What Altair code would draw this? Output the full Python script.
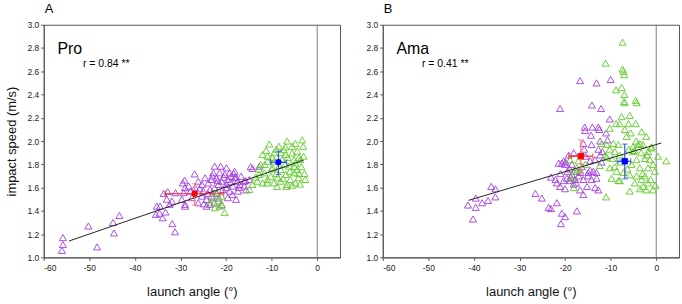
import altair as alt
import pandas as pd

# ---------------- data ----------------
pro_purple_x = [-55.8, -55.8, -56.0, -50.2, -48.3, -44.8, -44.6, -43.4,
                -35.2, -34.5, -35.4, -34.6, -33.9, -33.3, -31.8, -31.2,
                -33.7, -32.8, -31.1, -31.9, -32.4, -33.0, -29.1, -29.0, -29.0,
                -22.5, -21.2, -22.8, -21.4, -22.1, -20.3, -19.2, -18.9, -18.1, -19.6,
                -17.5, -17.0, -18.5, -19.9, -21.0, -23.2, -23.9, -24.6, -25.3, -26.1,
                -26.9, -29.5, -28.2, -26.8, -25.0, -23.5, -22.5, -20.7, -19.2, -17.4,
                -16.0, -14.9, -14.2, -12.7, -17.8, -25.3, -24.3, -23.5, -24.3, -26.1,
                -29.0, -29.7, -29.3, -27.5, -23.2, -19.6, -21.7, -16.7, -16.0, -18.1,
                -19.9, -20.5, -19.0, -18.3, -17.8, -20.0, -22.0, -24.0, -25.8, -27.8,
                -21.6, -22.6, -24.9, -20.9, -18.6, -17.2, -15.6, -14.6, -15.7, -23.0, -21.8]
pro_purple_y = [1.17, 1.11, 1.06, 1.27, 1.09, 1.30, 1.21, 1.36,
                1.44, 1.44, 1.37, 1.38, 1.34, 1.39, 1.29, 1.22,
                1.55, 1.565, 1.556, 1.484, 1.456, 1.50, 1.664, 1.60, 1.44,
                1.784, 1.784, 1.727, 1.727, 1.684, 1.713, 1.727, 1.698, 1.684, 1.67,
                1.655, 1.627, 1.613, 1.627, 1.655, 1.67, 1.64, 1.684, 1.627, 1.655,
                1.718, 1.64, 1.613, 1.60, 1.57, 1.584, 1.598, 1.584, 1.57, 1.57,
                1.613, 1.67, 1.764, 1.784, 1.499, 1.527, 1.499, 1.456, 1.44, 1.47,
                1.456, 1.499, 1.556, 1.513, 1.527, 1.513, 1.627, 1.698, 1.655, 1.74,
                1.77, 1.69, 1.65, 1.72, 1.69, 1.60, 1.55, 1.55, 1.59, 1.57,
                1.51, 1.47, 1.46, 1.45, 1.54, 1.60, 1.58, 1.78, 1.66, 1.70, 1.66]

pro_green_x = [-10.5, -8.4, -6.6, -4.8, -3.3, -3.1, -5.5, -7.3, -12.0, -10.9,
               -9.5, -6.9, -5.5, -4.4, -11.5, -9.8, -8.0, -6.2, -4.8, -3.7,
               -2.6, -4.4, -5.1, -6.9, -8.7, -10.2, -11.6, -12.7, -13.1, -12.0,
               -14.2, -14.9, -9.5, -8.0, -6.6, -4.8, -4.1, -5.9, -10.9, -12.4,
               -7.7, -9.5, -10.9, -5.1,
               -22.8, -21.7, -21.0, -20.3, -23.5, -22.1, -21.0, -21.4, -22.5,
               -9.0, -8.0, -11.2, -7.0, -6.0, -3.5, -3.0, -4.0, -9.0, -10.0,
               -7.5, -5.5, -3.8, -11.0, -12.8, -8.3, -6.5, -2.8, -13.5, -7.0,
               -9.8, -5.0, -4.0, -8.8, -6.8]
pro_green_y = [1.975, 1.955, 2.00, 1.98, 2.01, 1.955, 1.955, 1.926, 1.884, 1.87,
               1.898, 1.884, 1.898, 1.912, 1.798, 1.77, 1.755, 1.784, 1.812, 1.84,
               1.67, 1.755, 1.727, 1.713, 1.684, 1.698, 1.727, 1.713, 1.655, 1.64,
               1.627, 1.584, 1.64, 1.655, 1.627, 1.64, 1.684, 1.67, 1.67, 1.798,
               1.84, 1.827, 1.827, 1.84,
               1.513, 1.485, 1.456, 1.385, 1.47, 1.556, 1.527, 1.44, 1.427,
               1.93, 1.90, 1.92, 1.80, 1.74, 1.78, 1.87, 1.86, 1.72, 1.76,
               1.68, 1.62, 1.63, 1.64, 1.76, 1.79, 1.86, 1.72, 1.69, 1.95,
               1.86, 1.78, 1.72, 1.61, 1.61]

ama_purple_x = [-41.3, -40.2, -39.6, -39.6, -38.2, -36.9, -36.2, -35.3, -35.3,
                -26.5, -25.1, -23.6, -23.1, -21.8, -20.7, -20.0, -20.9, -17.4,
                -16.7, -13.1, -10.0,
                -21.1, -14.1, -12.1, -10.2, -15.7, -14.0, -12.7, -12.5, -15.6, -11.0,
                -14.3, -16.0, -14.2, -10.7, -15.8, -12.7, -12.3, -18.1, -19.2, -20.3,
                -20.7, -20.0, -14.5, -13.4, -12.0, -14.5, -13.8, -13.1, -14.9, -17.4,
                -16.7, -18.5, -19.6, -20.3, -18.9, -17.8, -16.0, -14.2, -13.1, -22.1,
                -23.1, -21.8, -21.1, -18.1, -15.2, -13.4, -12.7, -16.7, -16.0, -20.0,
                -11.8, -12.3, -18.5, -19.9, -21.4, -17.0, -15.0, -19.0, -17.6, -16.3,
                -21.0, -19.5, -18.8, -15.5]
ama_purple_y = [1.45, 1.33, 1.51, 1.43, 1.47, 1.49, 1.61, 1.52, 1.59,
                1.55, 1.51, 1.43, 1.42, 1.47, 1.38, 1.35, 1.29, 1.40,
                2.52, 2.50, 2.53,
                2.28, 2.31, 2.28, 2.19, 2.12, 2.12, 2.12, 2.10, 2.09, 2.07,
                2.05, 1.98, 1.97, 2.01, 1.93, 1.93, 1.88, 1.90, 1.88, 1.83,
                1.81, 1.80, 1.83, 1.84, 1.82, 1.75, 1.74, 1.73, 1.73, 1.74,
                1.73, 1.71, 1.68, 1.66, 1.66, 1.67, 1.67, 1.67, 1.68, 1.67,
                1.69, 1.64, 1.61, 1.63, 1.61, 1.60, 1.58, 1.58, 1.54, 1.59,
                1.91, 2.00, 1.80, 1.82, 1.81, 1.70, 1.70, 1.76, 1.64, 1.78,
                1.72, 1.74, 1.69, 1.87]

ama_green_x = [-7.4, -7.4, -7.2, -7.0, -8.8, -7.6, -7.0, -7.1, -11.1, -4.5,
               -6.9, -4.3, -7.6, -5.8, -8.8, -8.0, -6.1, -4.5, -10.2, -6.9,
               -5.6, -3.2, -6.5, -2.2, -4.4, -3.6, -4.0, -2.9, -5.1, -8.3,
               -9.4, -10.9, -12.0, -10.2, -9.1, -8.0, -11.2, -5.1, -3.3, -1.8,
               -1.1, -1.4, -2.5, -4.3, -5.4, -3.6, -1.8, -0.7, 2.2, -0.3,
               -9.1, -10.2, -8.7, -7.2, -5.8, -4.3, -2.5, -3.2, -1.8, -2.9,
               -3.6, -2.2, -0.7, -9.8, -8.3, -8.0, -5.8, -11.0, -10.9, -16.7,
               -17.4, -18.1, -18.9, -17.1, -15.6, -18.5, -18.1, -4.7, 0.4, -1.0,
               -6.0, -7.8, -9.6, -3.0, -1.2, -12.4, -6.3, -4.8, -2.0, -0.2]
ama_green_y = [2.85, 2.62, 2.60, 2.57, 2.44, 2.46, 2.40, 2.34, 2.67, 2.35,
               2.33, 2.33, 2.21, 2.22, 2.15, 2.15, 2.15, 2.15, 2.11, 2.10,
               2.07, 2.08, 2.04, 2.04, 2.00, 1.98, 1.97, 1.97, 1.95, 1.97,
               1.98, 1.97, 1.98, 1.93, 1.91, 1.88, 1.88, 1.91, 1.90, 1.91,
               1.94, 1.84, 1.85, 1.84, 1.80, 1.77, 1.77, 1.80, 1.83, 1.74,
               1.78, 1.77, 1.74, 1.73, 1.71, 1.70, 1.70, 1.67, 1.64, 1.61,
               1.59, 1.58, 1.58, 1.68, 1.66, 1.66, 1.57, 1.52, 1.86, 1.75,
               1.77, 1.74, 1.84, 1.83, 1.80, 1.68, 1.60, 1.64, 1.87, 1.95,
               1.93, 1.82, 1.85, 1.72, 1.67, 1.79, 1.76, 1.92, 1.88, 1.62]

# regression lines
pro_fit_x = [-54.5, -3.0]
pro_fit_y = [1.14, 1.835]
ama_fit_x = [-41.2, 1.1]
ama_fit_y = [1.49, 1.983]

# means with error bars: [x, y, xlo, xhi, ylo, yhi]
pro_red = [-26.9, 1.547, -33.3, -20.5, 1.45, 1.633]
pro_blue = [-8.5, 1.818, -10.2, -6.7, 1.713, 1.912]
ama_red = [-16.55, 1.87, -19.2, -13.9, 1.73, 2.01]
ama_blue = [-6.9, 1.826, -8.6, -5.6, 1.675, 1.974]

x_ticks = [-60, -50, -40, -30, -20, -10, 0]
y_ticks = [1.0, 1.2, 1.4, 1.6, 1.8, 2.0, 2.2, 2.4, 2.6, 2.8, 3.0]

FONT = "Liberation Sans"
PURPLE = "#a23be0"
GREEN = "#5ccb24"
W, H = 298, 234


def panel(letter, group, r_text, pu_x, pu_y, gr_x, gr_y, fit_x, fit_y, red, blue,
          mean_shape, show_ytitle):
    xs = alt.Scale(domain=[-60, 5], nice=False, zero=False)
    ys = alt.Scale(domain=[1.0, 3.0], nice=False, zero=False)
    xax = alt.Axis(values=x_ticks, labelExpr="'' + datum.value", title="launch angle (°)",
                   grid=False, tickSize=3, labelFontSize=8.5, titleFontSize=13,
                   titleFontWeight="normal", titlePadding=14, labelPadding=3)
    yax = alt.Axis(values=y_ticks, format=".1f",
                   title="impact speed (m/s)" if show_ytitle else "",
                   grid=False, tickSize=3, labelFontSize=8.5, titleFontSize=13,
                   titleFontWeight="normal", titlePadding=9, labelPadding=2)
    X = lambda f: alt.X(f, type="quantitative", scale=xs, axis=xax)
    Y = lambda f: alt.Y(f, type="quantitative", scale=ys, axis=yax)

    zero = alt.Chart(pd.DataFrame({"x": [0]})).mark_rule(color="#808080", strokeWidth=1).encode(
        x=X("x"))
    pu = alt.Chart(pd.DataFrame({"x": pu_x, "y": pu_y})).mark_point(
        shape="triangle-up", filled=False, color=PURPLE, size=50, strokeWidth=0.9, opacity=1
    ).encode(x=X("x"), y=Y("y"))
    gr = alt.Chart(pd.DataFrame({"x": gr_x, "y": gr_y})).mark_point(
        shape="triangle-up", filled=False, color=GREEN, size=50, strokeWidth=0.9, opacity=1
    ).encode(x=X("x"), y=Y("y"))
    fit = alt.Chart(pd.DataFrame({"x": fit_x, "y": fit_y})).mark_line(
        color="#222222", strokeWidth=1).encode(x=X("x"), y=Y("y"))

    layers = [zero, pu, gr, fit]
    for vals, hcol, vcol, pcol in [(red, "#ff2020", "#ff8080", "#ff0000"),
                                   (blue, "#2040e0", "#3050ee", "#0000ff")]:
        d = pd.DataFrame({"x": [vals[0]], "y": [vals[1]], "xlo": [vals[2]], "xhi": [vals[3]],
                          "ylo": [vals[4]], "yhi": [vals[5]]})
        c = alt.Chart(d)
        layers.append(c.mark_rule(color=hcol, strokeWidth=1.2).encode(
            x=X("xlo"), x2="xhi", y=Y("y")))
        layers.append(c.mark_rule(color=vcol, strokeWidth=1.2).encode(
            x=X("x"), y=Y("ylo"), y2="yhi"))
        layers.append(c.mark_tick(color=hcol, orient="vertical", size=6, thickness=1.2).encode(
            x=X("xlo"), y=Y("y")))
        layers.append(c.mark_tick(color=hcol, orient="vertical", size=6, thickness=1.2).encode(
            x=X("xhi"), y=Y("y")))
        layers.append(c.mark_tick(color=vcol, orient="horizontal", size=6, thickness=1.2).encode(
            x=X("x"), y=Y("ylo")))
        layers.append(c.mark_tick(color=vcol, orient="horizontal", size=6, thickness=1.2).encode(
            x=X("x"), y=Y("yhi")))
        layers.append(c.mark_point(shape=mean_shape, filled=True, color=pcol, size=40,
                                   opacity=1).encode(x=X("x"), y=Y("y")))

    lab = pd.DataFrame({"x": [-57.0], "y": [2.747], "t": [group]})
    layers.append(alt.Chart(lab).mark_text(align="left", baseline="alphabetic", font=FONT,
                                           fontSize=16, color="#000").encode(
        x=X("x"), y=Y("y"), text="t"))
    rt = pd.DataFrame({"x": [-51.4], "y": [2.633], "t": [r_text]})
    layers.append(alt.Chart(rt).mark_text(align="left", baseline="alphabetic", font=FONT,
                                          fontSize=10.5, color="#000").encode(
        x=X("x"), y=Y("y"), text="t"))

    return alt.layer(*layers).properties(
        width=W, height=H,
        title=alt.TitleParams(letter, anchor="start", frame="group", fontSize=13,
                              fontWeight="normal", font=FONT, offset=5, dx=1),
    )


left = panel("A", "Pro", "r = 0.84 **", pro_purple_x, pro_purple_y, pro_green_x, pro_green_y,
             pro_fit_x, pro_fit_y, pro_red, pro_blue, "circle", True)
right = panel("B", "Ama", "r = 0.41 **", ama_purple_x, ama_purple_y, ama_green_x, ama_green_y,
              ama_fit_x, ama_fit_y, ama_red, ama_blue, "square", False)

chart = alt.hconcat(left, right, spacing=24).properties(
    padding={"left": 4, "top": 1, "right": 2, "bottom": 2}
).configure(font=FONT).configure_view(
    stroke="#555555", strokeWidth=1
).configure_axis(
    domainColor="#555555", tickColor="#555555", labelColor="#222222", titleColor="#111111",
    labelFont=FONT, titleFont=FONT
)

chart.save("out.html", embed_options={"renderer": "svg", "actions": False})
